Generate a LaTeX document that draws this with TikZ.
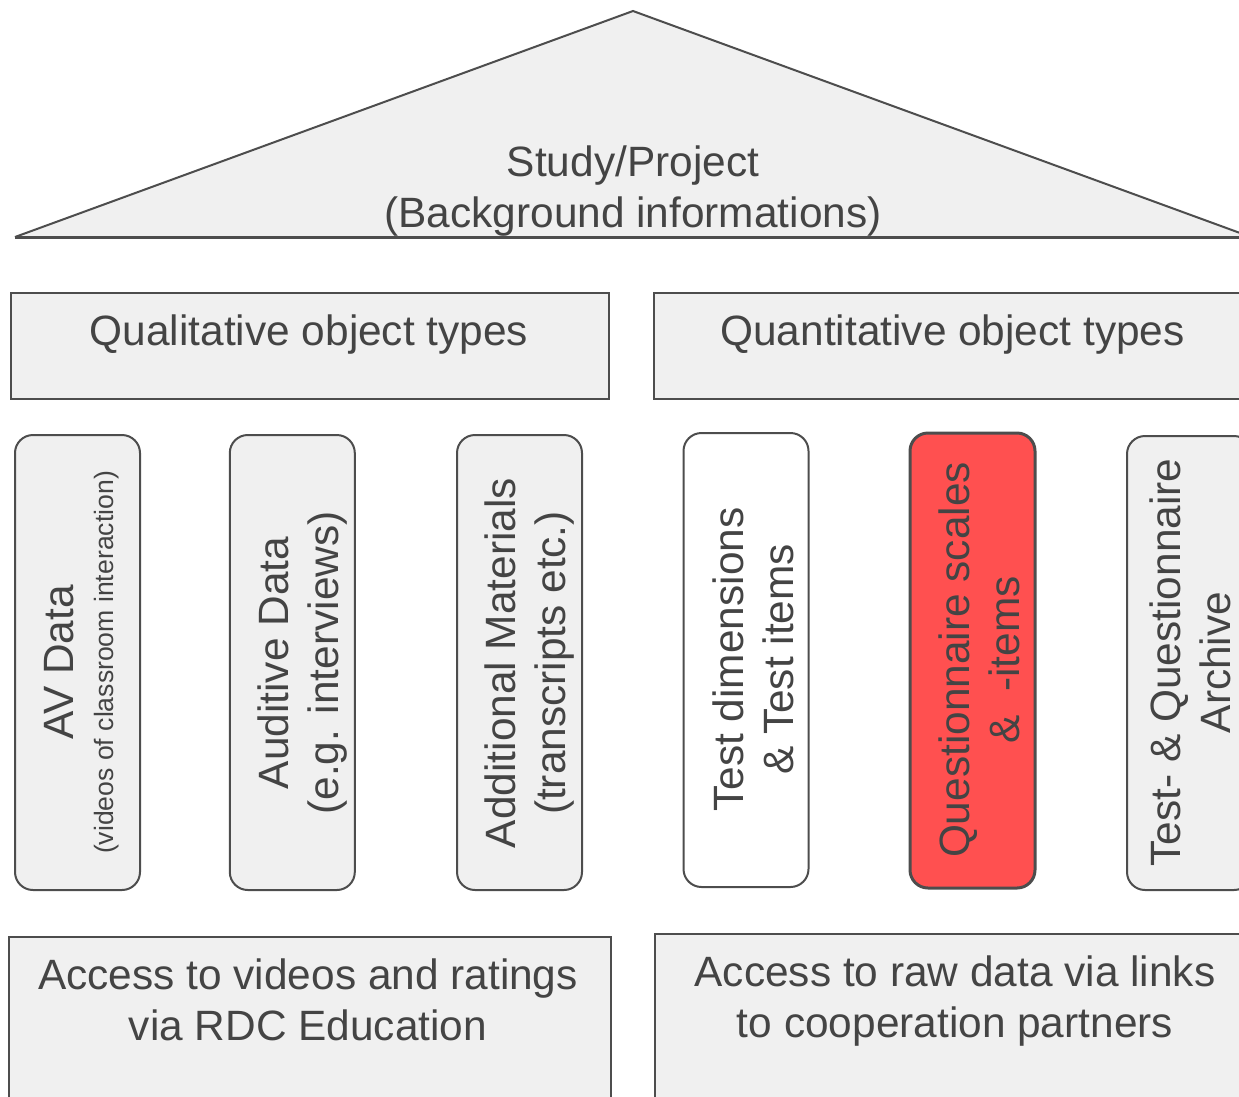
\documentclass[tikz,border=0pt]{standalone}
\usepackage{fontspec}
\setmainfont{Liberation Sans}
\definecolor{linec}{HTML}{4D4D4D}
\definecolor{textc}{HTML}{444444}
\definecolor{fillc}{HTML}{F0F0F0}
\definecolor{redc}{HTML}{FF5050}
\begin{document}
\begin{tikzpicture}[x=1pt,y=-1pt,
  gbox/.style={draw=linec,fill=fillc,line width=2pt,inner sep=0pt},
  pillar/.style={draw=linec,fill=fillc,line width=2pt,rounded corners=18pt,
     minimum width=125pt,minimum height=454pt,inner sep=0pt},
  txt/.style={text=textc,align=center,inner sep=0pt,font=\fontsize{42.4pt}{51pt}\selectfont},
  vtxt/.style={txt,rotate=90,font=\fontsize{42.4pt}{50pt}\selectfont}]
\useasboundingbox (0,0) rectangle (1239,1096);
\clip (0,0) rectangle (1239,1096);
% roof
\coordinate (tl) at (15,237);
\coordinate (tt) at (633,11);
\coordinate (tr) at (1251,237);
\fill[fillc] (tl) -- (tt) -- (tr) -- cycle;
\draw[linec,line width=2pt,line join=miter] (tl) -- (tt) -- (tr);
\draw[linec,line width=3pt] (tl) -- (tr);
\node[txt] (study) at (633,190.6) {Study/Project\\(Background informations)};
% type boxes
\node[gbox,minimum width=598pt,minimum height=106pt] (qual) at (310,346) {};
\node[gbox,minimum width=597pt,minimum height=106pt] (quant) at (952.5,346) {};
\node[txt,anchor=base] (qualt) at (309,345) {Qualitative object types};
\node[txt,anchor=base] (quantt) at (952.5,345) {Quantitative object types};
% pillars
\node[pillar,minimum height=455pt] (p1) at (77.5,662.5) {};
\node[pillar,minimum height=455pt] (p2) at (292.3,662.5) {};
\node[pillar,minimum height=455pt] (p3) at (519.5,662.5) {};
\node[pillar,fill=white] (p4) at (746,660) {};
\node[pillar,fill=redc,line width=3pt,minimum height=455pt] (p5) at (972.5,660.5) {};
\node[pillar] (p6) at (1189.5,663) {};
\node[vtxt] (t1) at (81.7,662.5) {AV Data\\[-10pt]{\fontsize{26.6pt}{30pt}\selectfont (videos of classroom interaction)}};
\node[vtxt] (t2) at (303,663) {Auditive Data\\(e.g. interviews)};
\node[vtxt] (t3) at (530,663) {Additional Materials\\(transcripts etc.)};
\node[vtxt] (t4) at (753,659.5) {Test dimensions\\\& Test items};
\node[vtxt] (t5) at (979,660) {Questionnaire scales\\\&\ \ -items};
\node[vtxt] (t6) at (1190,662.5) {Test- \& Questionnaire\\Archive};
% access boxes
\node[gbox,anchor=north west,minimum width=602pt,minimum height=200pt] (accl) at (8,936) {};
\node[gbox,anchor=north west,minimum width=600pt,minimum height=200pt] (accr) at (654,933) {};
\node[txt] (acclt) at (308,1000.3) {Access to videos and ratings\\via RDC Education};
\node[txt] (accrt) at (955,1001) {Access to raw data via links\\to cooperation partners};
\end{tikzpicture}
\end{document}
